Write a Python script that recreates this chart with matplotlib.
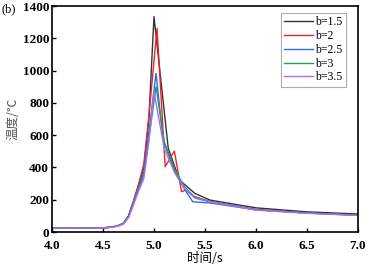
import matplotlib
matplotlib.use("Agg")
import matplotlib.pyplot as plt

# data
t_b15 = [4.0, 4.5, 4.6, 4.65, 4.7, 4.75, 4.8, 4.85, 4.9, 4.95, 5.0, 5.14, 5.25, 5.4, 5.55, 6.0, 6.5, 7.0]
v_b15 = [24, 26, 33, 40, 55, 100, 190, 290, 390, 700, 1335, 518, 322, 240, 198, 150, 125, 112]

t_b2 = [4.0, 4.5, 4.6, 4.65, 4.7, 4.75, 4.8, 4.85, 4.9, 4.95, 5.03, 5.11, 5.2, 5.27, 5.31, 5.4, 5.55, 6.0, 6.5, 7.0]
v_b2 = [24, 25, 32, 40, 53, 98, 195, 300, 420, 720, 1262, 405, 502, 250, 260, 219, 188, 140, 118, 106]

t_b25 = [4.0, 4.5, 4.6, 4.65, 4.7, 4.75, 4.8, 4.85, 4.9, 4.95, 5.02, 5.09, 5.2, 5.3, 5.38, 5.55, 6.0, 6.5, 7.0]
v_b25 = [24, 25, 32, 40, 52, 95, 185, 280, 370, 620, 983, 570, 380, 265, 188, 180, 138, 118, 104]

t_b3 = [4.0, 4.5, 4.6, 4.65, 4.7, 4.75, 4.8, 4.85, 4.9, 4.95, 5.02, 5.1, 5.2, 5.3, 5.4, 5.55, 6.0, 6.5, 7.0]
v_b3 = [24, 25, 32, 39, 51, 92, 180, 270, 350, 580, 900, 560, 390, 280, 215, 190, 138, 118, 105]

t_b35 = [4.0, 4.5, 4.6, 4.65, 4.7, 4.75, 4.8, 4.85, 4.9, 4.95, 5.0, 5.1, 5.2, 5.3, 5.4, 5.55, 6.0, 6.5, 7.0]
v_b35 = [24, 25, 31, 38, 50, 88, 170, 255, 330, 560, 870, 520, 370, 270, 210, 186, 136, 116, 103]

labels = ["b=1.5", "b=2", "b=2.5", "b=3", "b=3.5"]
colors = ["#333333", "#e8262b", "#2a6fe0", "#22a05a", "#b266ff"]
xticks = [4.0, 4.5, 5.0, 5.5, 6.0, 6.5, 7.0]
yticks = [0, 200, 400, 600, 800, 1000, 1200, 1400]

plt.rcParams['font.family'] = ['Liberation Serif', 'Noto Sans CJK SC']

fig = plt.figure(figsize=(3.7, 2.64), dpi=100)
ax = fig.add_axes([0.1405, 0.121, 0.827, 0.856])

series = [(t_b15, v_b15), (t_b2, v_b2), (t_b25, v_b25), (t_b3, v_b3), (t_b35, v_b35)]
for (t, v), lab, c in zip(series, labels, colors):
    ax.plot(t, v, color=c, lw=1.0, label=lab)

ax.set_xlim(4.0, 7.0)
ax.set_ylim(0, 1400)
ax.set_xticks(xticks)
ax.set_xticklabels([f"{x:.1f}" for x in xticks], fontweight='bold', fontsize=9.5)
ax.set_yticks(yticks)
ax.set_yticklabels([str(y) for y in yticks], fontweight='bold', fontsize=9.5)
ax.tick_params(direction='in', length=3, width=1.0)
ax.tick_params(axis='x', pad=5.5)
ax.tick_params(axis='y', pad=2)
for s in ax.spines.values():
    s.set_linewidth(1.2)

ax.set_xlabel("时间/s", fontsize=9, family=['Noto Sans CJK SC', 'DejaVu Sans'], labelpad=0)
ax.set_ylabel("温度/℃", fontsize=9, family=['Noto Sans CJK SC', 'DejaVu Sans'],
              color='#555566', labelpad=2)

leg = ax.legend(loc='upper right', bbox_to_anchor=(0.96, 0.97), fontsize=8.5,
                frameon=True, fancybox=False, handlelength=2.4, handletextpad=0.2,
                borderpad=0.3, labelspacing=0.15, borderaxespad=0)
leg.get_frame().set_edgecolor('#999999')
leg.get_frame().set_linewidth(0.8)

fig.text(0.005, 0.955, "(b)", fontsize=9)

fig.savefig("out.png", dpi=100)
